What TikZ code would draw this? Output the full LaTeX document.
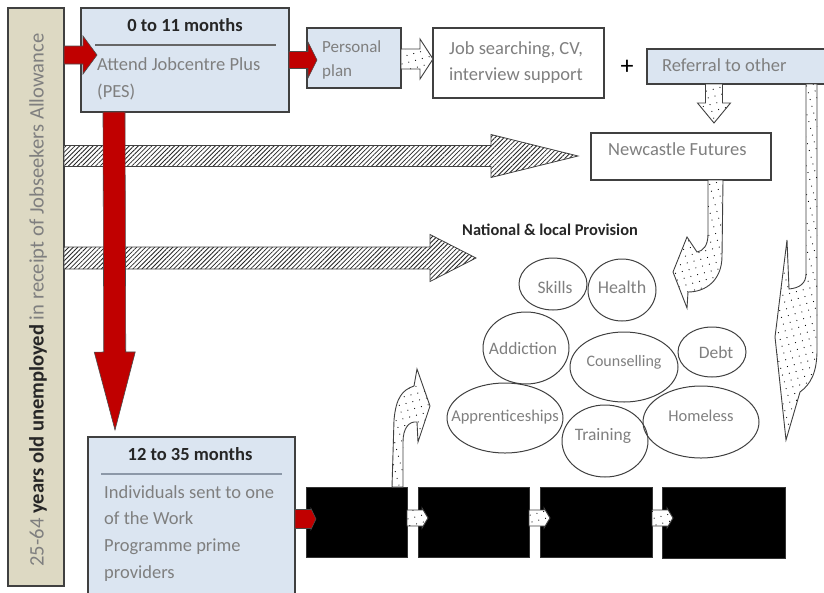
\documentclass[tikz,border=0pt]{standalone}
\usepackage{fontspec}
\setmainfont{Carlito}
\usetikzlibrary{calc,patterns.meta,shapes.geometric}

\definecolor{boxblue}{HTML}{DBE5F1}
\definecolor{barbeige}{HTML}{DDD9C3}
\definecolor{arrowred}{HTML}{C00000}
\definecolor{edge}{HTML}{404040}
\definecolor{softtext}{HTML}{7F7F7F}
\definecolor{darktext}{HTML}{262626}
\definecolor{rulegray}{HTML}{8C98A8}

\tikzset{
  panel/.style={draw=edge, line width=1.2pt, inner sep=0pt, outer sep=0pt, anchor=north west},
  bluepanel/.style={panel, fill=boxblue},
  whitepanel/.style={panel, fill=white},
  blackpanel/.style={fill=black, draw=black!80, line width=0.5pt, inner sep=0pt, outer sep=0pt, anchor=north west, minimum height=70pt},
  redarrow/.style={fill=arrowred, draw=black!70, line width=0.6pt, line join=miter},
  hatcharrow/.style={draw=edge, line width=0.8pt, preaction={fill=white},
    pattern={Lines[angle=45,distance=3.2pt,line width=0.8pt]}, pattern color=black!85},
  dotarrow/.style={draw=edge, line width=0.9pt, preaction={fill=white},
    pattern={Dots[distance=7pt,radius=0.6pt,angle=15]}, pattern color=black},
  bodytext/.style={text=softtext, inner sep=0pt, font=\fontsize{18.5}{26.7}\selectfont},
  titletext/.style={text=darktext, inner sep=0pt, font=\fontsize{18.5}{22}\selectfont\bfseries},
  bubble/.style={ellipse, draw=edge, line width=1pt, inner sep=0pt},
  bubbletext/.style={text=softtext, inner sep=0pt, font=\fontsize{#1}{20}\selectfont},
  rulesep/.style={line width=1.3pt, draw=edge!80},
}

% Outlined block arrow: style, start, tip, shaft half width, head half width, head length
\newcommand\blockarrow[6]{%
  \coordinate (ba-base) at ($(#3)!#6!(#2)$);
  \draw[#1] ($(#2)!#4!90:(#3)$) -- ($(ba-base)!#4!90:(#3)$) -- ($(ba-base)!#5!90:(#3)$)
    -- (#3) -- ($(ba-base)!#5!-90:(#3)$) -- ($(ba-base)!#4!-90:(#3)$) -- ($(#2)!#4!-90:(#3)$) -- cycle;
}

\begin{document}
\begin{tikzpicture}[x=1pt,y=-1pt]
\useasboundingbox (0,0) rectangle (824,592);

% ---- panels ----
\node[panel, fill=barbeige, minimum width=56pt, minimum height=578pt] (bar) at (8,8) {};
\node[bluepanel, minimum width=208pt, minimum height=104pt] (pes) at (81,8) {};
\node[bluepanel, minimum width=94pt, minimum height=60pt] (plan) at (307,28) {};
\node[whitepanel, minimum width=171pt, minimum height=70pt] (job) at (433,28) {};
\node[bluepanel, minimum width=200pt, minimum height=35pt] (referral) at (647,49) {};
\node[whitepanel, minimum width=180pt, minimum height=47pt] (futures) at (591,133) {};
\node[bluepanel, minimum width=207pt, minimum height=165pt] (prime) at (88,437) {};

% ---- hatched routes from the left bar ----
\coordinate (h1a) at (bar.east |- 0,156);
\coordinate (h1b) at ($(futures.west |- 0,156)+(-13,0)$);
\blockarrow{hatcharrow}{h1a}{h1b}{10.5pt}{21.5pt}{87pt}
\coordinate (h2a) at (bar.east |- 0,258);
\coordinate (provision) at (476,258);
\blockarrow{hatcharrow}{h2a}{provision}{11pt}{23.5pt}{46pt}

% ---- red flow ----
\coordinate (r1a) at (bar.east |- 0,55);
\coordinate (r1b) at ($(pes.west |- 0,55)+(16,0)$);
\blockarrow{redarrow}{r1a}{r1b}{9pt}{19pt}{14pt}
\coordinate (r2a) at (pes.east |- 0,60);
\coordinate (r2b) at ($(plan.west |- 0,60)+(10,0)$);
\blockarrow{redarrow}{r2a}{r2b}{8.5pt}{18pt}{9pt}
\coordinate (rva) at (pes.south -| 114,0);
\coordinate (rvb) at ($(prime.north -| 115,0)+(0,-7)$);
\blockarrow{redarrow}{rva}{rvb}{11pt}{20.5pt}{78pt}

% ---- provider stages ----
\node[blackpanel, minimum width=101pt] (stageA) at (306,487) {};
\node[blackpanel, minimum width=111pt] (stageB) at (418,487) {};
\node[blackpanel, minimum width=112pt] (stageC) at (540,487) {};
\node[blackpanel, minimum width=123pt, minimum height=71pt] (stageD) at (662,487) {};

\coordinate (r3a) at (prime.east |- 0,519);
\coordinate (r3b) at ($(stageA.west |- 0,519)+(10,0)$);
\blockarrow{redarrow}{r3a}{r3b}{9.5pt}{10.5pt}{5pt}
\coordinate (sAa) at (stageA.east |- 0,518);
\coordinate (sAb) at ($(stageB.west |- 0,518)+(10,0)$);
\blockarrow{dotarrow}{sAa}{sAb}{8pt}{10pt}{6pt}
\coordinate (sBa) at (stageB.east |- 0,518);
\coordinate (sBb) at ($(stageC.west |- 0,518)+(10,0)$);
\blockarrow{dotarrow}{sBa}{sBb}{8pt}{10pt}{6pt}
\coordinate (sCa) at (stageC.east |- 0,518);
\coordinate (sCb) at ($(stageD.west |- 0,518)+(11,0)$);
\blockarrow{dotarrow}{sCa}{sCb}{8pt}{10pt}{6pt}

% ---- dotted referral arrows ----
\coordinate (p1a) at (plan.east |- 0,59);
\coordinate (p1b) at (job.west |- 0,59);
\blockarrow{dotarrow}{p1a}{p1b}{10pt}{20pt}{13pt}
\coordinate (d1a) at (referral.south -| 714,0);
\coordinate (d1b) at ($(futures.north -| 714,0)+(0,-10)$);
\blockarrow{dotarrow}{d1a}{d1b}{8.5pt}{16.5pt}{20pt}

% curved arrow from Newcastle Futures towards the provision
\draw[dotarrow] (708,180) -- (708,234) .. controls (708,246) and (703,251) .. (697,252)
  -- (687,237) -- (673,272) -- (687,308) -- (688,292)
  .. controls (706,292) and (722,280) .. (722,256) -- (723,180) -- cycle;

% long curved arrow down the right-hand side
\draw[dotarrow] (806,84) -- (806,274) .. controls (806,283) and (800,288) .. (789,289)
  -- (787,240) -- (775,337) -- (786,440) -- (800,392)
  .. controls (811,384) and (817,372) .. (817,350) -- (817,84) -- cycle;

% curved arrow rising from the first stage
\draw[dotarrow] (392,487) -- (394,420) .. controls (396,398) and (402,390) .. (414,386)
  -- (417,369) -- (430,406) -- (418,442) -- (417,422)
  .. controls (409,421) and (403,428) .. (403,442) -- (403,487) -- cycle;

% ---- provision bubbles ----
\node[bubble, minimum width=68pt, minimum height=52pt,
  label={[bubbletext=17.5, xshift=2pt, yshift=-3pt]center:Skills}] (skills) at (553,284) {};
\node[bubble, minimum width=68pt, minimum height=62pt,
  label={[bubbletext=18, yshift=3pt]center:Health}] (health) at (622,290) {};
\node[bubble, minimum width=86pt, minimum height=72pt,
  label={[bubbletext=17.5, xshift=-3pt]center:Addiction}] (addiction) at (526,348) {};
\node[bubble, minimum width=108pt, minimum height=70pt,
  label={[bubbletext=16, yshift=5pt]center:Counselling}] (counselling) at (624,367) {};
\node[bubble, minimum width=68pt, minimum height=50pt,
  label={[bubbletext=17.5, xshift=4pt]center:Debt}] (debt) at (712,352) {};
\node[bubble, minimum width=116pt, minimum height=70pt,
  label={[bubbletext=16.5, yshift=1pt]center:Apprenticeships}] (apprent) at (505,418) {};
\node[bubble, minimum width=86pt, minimum height=72pt,
  label={[bubbletext=17.5, xshift=-2pt, yshift=5pt]center:Training}] (training) at (605,441) {};
\node[bubble, minimum width=116pt, minimum height=72pt,
  label={[bubbletext=16.5, yshift=6pt]center:Homeless}] (homeless) at (701,422) {};

% ---- texts ----
\node[rotate=90, text=softtext, inner sep=0pt, font=\fontsize{20.6}{24}\selectfont] (bartext) at (38,300)
  {25-64 \textbf{\color{darktext}years old unemployed} in receipt of Jobseekers Allowance};

\node[titletext, anchor=mid] (pestitle) at (185,29) {0 to 11 months};
\draw[rulesep] ($(pes.north west)+(14,37)$) -- ($(pes.north east)+(-13,37)$);
\node[bodytext, anchor=north west, align=left] (pestext) at (97,57.5) {Attend Jobcentre Plus\\(PES)};

\node[bodytext, anchor=north west, align=left, font=\fontsize{17}{24}\selectfont] (plantext) at (322,40) {Personal\\plan};
\node[bodytext, anchor=north west, align=left, font=\fontsize{18.5}{26}\selectfont] (jobtext) at (449,41.5) {Job searching, CV,\\interview support};
\node[inner sep=0pt, font=\fontsize{26}{28}\selectfont] (plus) at (627,67) {+};
\node[bodytext, anchor=mid west] (reftext) at (662,69) {Referral to other};
\node[bodytext, anchor=mid west] (futtext) at (608,153) {Newcastle Futures};

\node[titletext, anchor=mid] (primetitle) at (190,458) {12 to 35 months};
\draw[line width=2pt, draw=rulegray] ($(prime.north west)+(13,37)$) -- ($(prime.north east)+(-13,37)$);
\node[bodytext, anchor=north west, align=left] (primetext) at (104,485)
  {Individuals sent to one\\of the Work\\Programme prime\\providers};

\node[text=darktext, inner sep=0pt, anchor=mid west, font=\fontsize{16.4}{20}\selectfont\bfseries] (provtitle) at (462,233) {National \& local Provision};
\end{tikzpicture}
\end{document}
